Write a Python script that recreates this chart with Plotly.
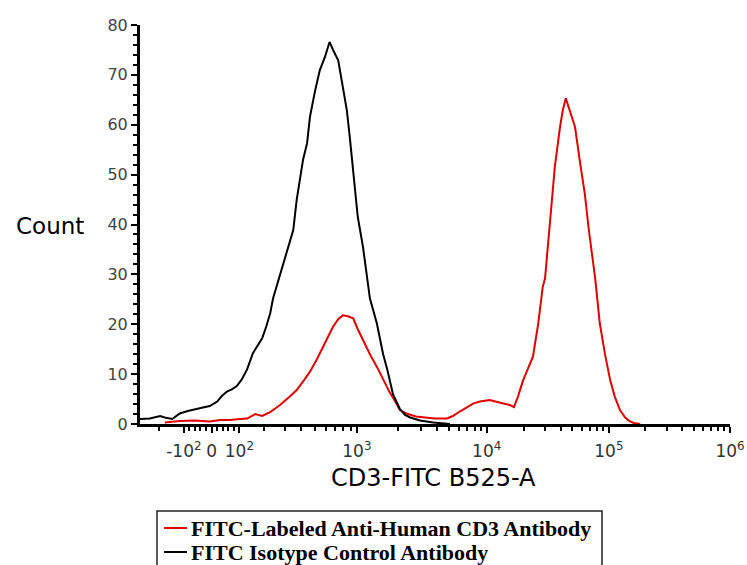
import numpy as np
import plotly.graph_objects as go

# ---------------- data (histogram on 1024-channel logicle display scale) ----------------
black_ch = [0, 17, 35, 43, 56, 69, 83, 99, 113, 121, 134, 142, 151, 160, 168, 177, 186, 196, 205, 212,
            219, 226, 231, 238, 248, 257, 266, 272, 278, 283, 290, 295, 304, 312, 321, 329, 335, 344, 352, 359,
            364, 370, 378, 387, 399, 411, 422, 429, 439, 451, 460, 469, 486, 509, 529, 538]
black_count = [1.0, 1.1, 1.6, 1.3, 1.0, 2.1, 2.6, 3.1, 3.4, 3.6, 4.5, 5.6, 6.5, 7.0, 7.6, 9.0, 11.0, 14.2, 15.8, 17.2,
               19.5, 22.2, 25.2, 28, 32.2, 35.5, 38.9, 45, 49.6, 53, 56.3, 61.6, 66.9, 70.9, 73.6, 76.6, 75.0, 72.9, 67.6, 62.9,
               57.6, 50.9, 41.5, 35.5, 25.2, 20.2, 14, 11, 6.0, 3.0, 1.8, 1.3, 0.7, 0.3, 0.1, 0]

red_ch = [43, 69, 95, 121, 139, 156, 174, 186, 200, 212, 226, 243, 260, 272, 286, 295, 307, 318, 326, 335,
          344, 352, 361, 370, 378, 387, 399, 411, 422, 434, 443, 451, 465, 479, 495, 512, 533, 543, 555, 568,
          578, 590, 607, 620, 630, 642, 649, 656, 665, 673, 682, 691, 699, 703, 712, 720, 729, 734, 739, 746,
          755, 764, 772, 779, 790, 798, 807, 816, 824, 833, 842, 849, 857, 868]
red_count = [0.3, 0.6, 0.7, 0.5, 0.8, 0.8, 1.0, 1.1, 2.0, 1.6, 2.4, 3.8, 5.5, 6.8, 9, 10.5, 13, 15.5, 17.5, 19.5,
             21, 21.8, 21.6, 21.2, 19, 16.8, 14, 11.5, 9, 6.2, 4.5, 2.8, 2.0, 1.5, 1.3, 1.1, 1.1, 1.6, 2.5, 3.5,
             4.1, 4.5, 4.8, 4.4, 4.1, 3.8, 3.4, 5.5, 8.8, 11, 13.5, 20, 27.5, 29.2, 40.9, 51.6, 59.6, 63, 65.3, 62.9,
             59.6, 52.2, 46.2, 38.9, 29.2, 20.2, 14, 8.8, 5.5, 2.8, 1.3, 0.6, 0.2, 0]

series_names = ["FITC-Labeled Anti-Human CD3 Antibody", "FITC Isotype Control Antibody"]
x_major_vals = [-100, 0, 100, 1e3, 1e4, 1e5, 1e6]
x_major_text = ["-10<sup>2</sup>", "0", "10<sup>2</sup>", "10<sup>3</sup>", "10<sup>4</sup>",
                "10<sup>5</sup>", "10<sup>6</sup>"]
x_title = "CD3-FITC B525-A"
y_title = "Count"

# ---------------- logicle scale ----------------
CHANNELS = 1024


def make_logicle(T=1e6, W=0.592, M=4.876, A=0.0):
    w = W / (M + A)
    x2 = A / (M + A)
    x1 = x2 + w
    x0 = x2 + 2 * w
    b = (M + A) * np.log(10)
    lo, hi = 1e-8, b
    for _ in range(200):
        mid = 0.5 * (lo + hi)
        g = 2 * (np.log(mid) - np.log(b)) + w * (b + mid)
        if g > 0:
            hi = mid
        else:
            lo = mid
    d = 0.5 * (lo + hi)
    ca = np.exp(x0 * (b + d))
    mfa = np.exp(b * x1) - ca * np.exp(-d * x1)
    a = T / (np.exp(b) - mfa - ca * np.exp(-d))
    c = ca * a
    f = -mfa * a

    def S(y):
        return a * np.exp(b * y) - c * np.exp(-d * y) + f

    ys = np.linspace(0, 1, 40001)
    vals = np.where(ys >= x1, S(ys), -S(2 * x1 - ys))

    def fwd(v):
        return np.interp(np.asarray(v, dtype=float), vals, ys) * CHANNELS
    return fwd


logicle = make_logicle()

minor_vals = [-200] + list(range(-80, 100, 20))
for dec in [100, 1000, 10000, 100000]:
    minor_vals += [k * dec for k in range(2, 10)]

# ---------------- layout geometry ----------------
W_, H_ = 747, 565
PL, PR, PT, PB = 140, 730, 25, 424          # plot area edges in window pixels
L, R, T, B = PL, W_ - PR, PT, H_ - PB


def px_x(px):
    return (px - PL) / (PR - PL)


def px_y(py):
    return (PB - py) / (PB - PT)


fig = go.Figure()
fig.add_trace(go.Scatter(x=red_ch, y=red_count, mode="lines", name=series_names[0],
                         line=dict(color="#e00000", width=2), showlegend=False))
fig.add_trace(go.Scatter(x=black_ch, y=black_count, mode="lines", name=series_names[1],
                         line=dict(color="black", width=2), showlegend=False))

fig.update_layout(
    width=W_, height=H_,
    margin=dict(l=L, r=R, t=T, b=B, autoexpand=False),
    paper_bgcolor="white", plot_bgcolor="white",
    font=dict(family="DejaVu Sans, Verdana, sans-serif", color="#444"),
    xaxis=dict(
        range=[0, CHANNELS], showgrid=False, zeroline=False,
        showline=True, linecolor="black", linewidth=3,
        ticks="outside", ticklen=6, tickwidth=2, tickcolor="black",
        tickmode="array", tickvals=list(logicle(x_major_vals)), ticktext=x_major_text,
        tickfont=dict(size=17, color="#333"), ticklabelstandoff=4,
        minor=dict(tickmode="array", tickvals=list(logicle(minor_vals)),
                   ticks="outside", ticklen=4, tickwidth=2, tickcolor="black", showgrid=False),
    ),
    yaxis=dict(
        range=[0, 80], showgrid=False, zeroline=False,
        showline=True, linecolor="black", linewidth=3,
        ticks="outside", ticklen=6, tickwidth=2, tickcolor="black",
        dtick=10, tick0=0, tickfont=dict(size=16, color="#444"),
        minor=dict(dtick=2, ticks="outside", ticklen=4, tickwidth=2, tickcolor="black", showgrid=False),
    ),
)

annotations = [
    dict(text=y_title, x=px_x(50), y=px_y(226), xref="paper", yref="paper", showarrow=False,
         font=dict(family="DejaVu Sans", size=23, color="black"), xanchor="center", yanchor="middle"),
    dict(text=x_title, x=px_x(433), y=px_y(478), xref="paper", yref="paper", showarrow=False,
         font=dict(family="DejaVu Sans", size=24, color="black"), xanchor="center", yanchor="middle"),
]
shapes = [
    dict(type="rect", xref="paper", yref="paper", x0=px_x(157), x1=px_x(602), y0=px_y(511), y1=px_y(590),
         line=dict(color="#222", width=1.5), fillcolor="white", layer="below"),
]
legend_colors = ["#e00000", "black"]
legend_rows = [528, 552]
for name, col, py in zip(series_names, legend_colors, legend_rows):
    shapes.append(dict(type="line", xref="paper", yref="paper", x0=px_x(164), x1=px_x(187),
                       y0=px_y(py), y1=px_y(py), line=dict(color=col, width=2)))
    annotations.append(dict(text=name, x=px_x(189), y=px_y(py), xref="paper", yref="paper",
                            showarrow=False, xanchor="left", yanchor="middle",
                            font=dict(family="Liberation Serif, Times New Roman, serif", size=22,
                                      color="black", weight="bold")))
fig.update_layout(annotations=annotations, shapes=shapes)

fig.write_html("out.html", config={"displayModeBar": False},
               post_script="document.body.style.margin='0';document.body.style.overflow='hidden';")
